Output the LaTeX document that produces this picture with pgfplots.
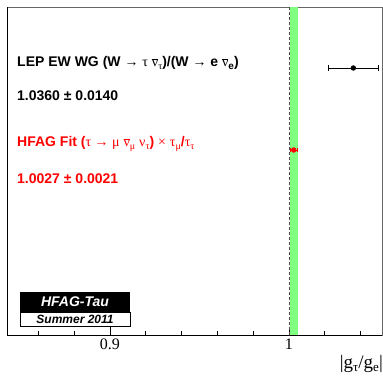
\documentclass[border=0pt]{standalone}
\usepackage{pgfplots}
\pgfplotsset{compat=1.18}
\usepackage{fontspec}
\setmainfont{Liberation Serif}
\newfontfamily\hv{Liberation Sans}
\newfontfamily\sy{Liberation Serif}
\definecolor{bandgreen}{RGB}{128,255,128}
\newcommand\nubar{$\overline{\hbox{\sy\mdseries ν}}$}
\newcommand\sub[1]{\raisebox{-0.35ex}{\fontsize{10}{11}\selectfont #1}}
\newcommand\xsub[1]{\raisebox{-0.35ex}{\fontsize{13}{14}\selectfont #1}}
\begin{document}
\begin{tikzpicture}
\begin{axis}[
  scale only axis,
  width=375pt, height=328pt,
  xmin=0.8425, xmax=1.0520,
  ymin=0, ymax=328,
  ytick=\empty,
  xtick={0.9,1},
  minor xtick={0.86,0.88,0.92,0.94,0.96,0.98,1.02,1.04},
  xtick pos=left,
  tick align=inside,
  major tick length=8pt,
  minor tick length=4pt,
  tick style={black, line width=0.6pt},
  axis line style={black!60, line width=0.4pt},
  /pgf/number format/assume math mode=true,
  xticklabel style={font=\fontsize{16}{18}\selectfont},
  clip=false,
]
\addplot[fill=bandgreen, draw=none] coordinates {(1.0006,0) (1.0048,0) (1.0048,328) (1.0006,328)} -- cycle;
\addplot[black!70, line width=0.6pt, dash pattern=on 3pt off 2pt] coordinates {(1,0) (1,328)};
\addplot[black, mark=*, mark size=2.3pt, line width=0.7pt,
  error bars/.cd, x dir=both, x explicit, error mark options={rotate=90, mark size=3pt, line width=0.7pt}]
  coordinates {(1.0360,267) +- (0.0140,0)};
\addplot[red, mark=*, mark size=2.3pt, line width=0.7pt,
  error bars/.cd, x dir=both, x explicit, error mark options={rotate=90, mark size=2pt, line width=0.7pt}]
  coordinates {(1.0027,185) +- (0.0021,0)};
\end{axis}
\begin{scope}[shift={(current axis.south west)}, x=1pt, y=1pt]
  \path (-7,-46) rectangle (376,335);
  \draw[black, line width=1pt] (0,0) -- (0,328);
  \draw[black, line width=1pt] (0,0) -- (375,0);
  % texts
  \node[anchor=base west, inner sep=0pt, font=\hv\bfseries\fontsize{14}{16}\selectfont] at (10,268)
    {LEP EW WG (W {\sy\mdseries →} {\sy\mdseries τ} \nubar\sub{\sy\mdseries τ})/(W {\sy\mdseries →} e \nubar\sub{e})};
  \node[anchor=base west, inner sep=0pt, font=\hv\bfseries\fontsize{14}{16}\selectfont] at (10,234)
    {1.0360 ± 0.0140};
  \node[anchor=base west, inner sep=0pt, text=red, font=\hv\bfseries\fontsize{14}{16}\selectfont] at (10,188)
    {HFAG Fit ({\sy\mdseries τ → μ} \nubar\sub{\sy\mdseries μ} {\sy\mdseries ν}\sub{\sy\mdseries τ}) {\sy\mdseries ×} {\sy\mdseries τ}\sub{\sy\mdseries μ}/{\sy\mdseries τ}\sub{\sy\mdseries τ}};
  \node[anchor=base west, inner sep=0pt, text=red, font=\hv\bfseries\fontsize{14}{16}\selectfont] at (10,152)
    {1.0027 ± 0.0021};
  % HFAG box
  \fill[black] (13,23) rectangle (123,43);
  \draw[black, line width=0.6pt, fill=white] (13,9) rectangle (123,23);
  \node[text=white, font=\hv\bfseries\itshape\fontsize{14}{15}\selectfont, inner sep=0pt] at (68,33) {HFAG-Tau};
  \node[text=black, font=\hv\bfseries\itshape\fontsize{12}{13}\selectfont, inner sep=0pt] at (68,16) {Summer 2011};
  % x label
  \node[anchor=east, inner sep=0pt, font=\fontsize{19}{21}\selectfont] at (376,-29)
    {|g\xsub{τ}/g\xsub{e}|};
\end{scope}
\end{tikzpicture}
\end{document}
